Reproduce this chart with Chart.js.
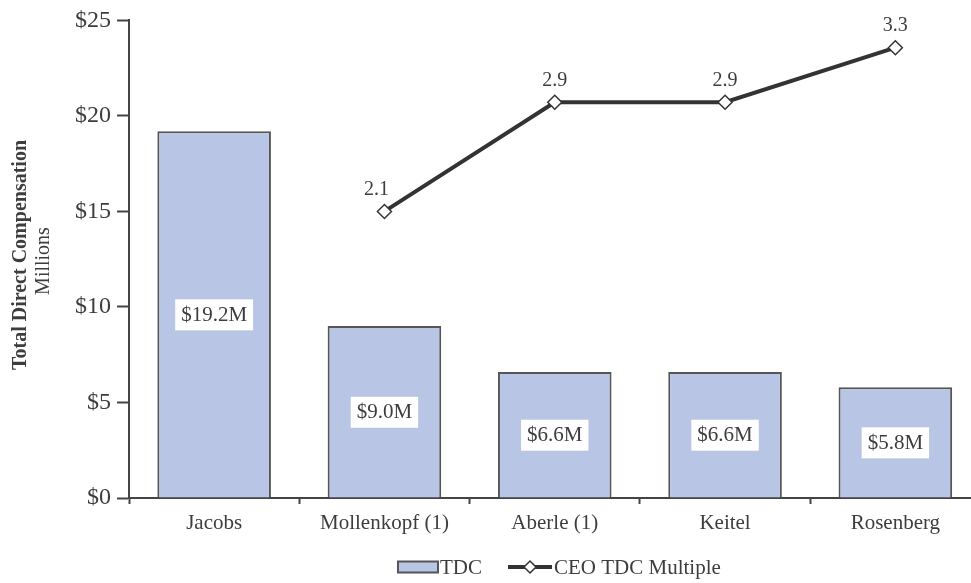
<!DOCTYPE html>
<html>
<script src="https://cdn.jsdelivr.net/npm/chart.js@4.4.1/dist/chart.umd.min.js"></script>
<body style="margin:0;overflow:hidden;background:#fff">
<canvas id="myChart" width="989" height="583"></canvas>

<script>
    const names = ["Jacobs", "Mollenkopf (1)", "Aberle (1)", "Keitel", "Rosenberg"];
    const tdc = [19.2, 9.0, 6.6, 6.6, 5.8];
    const multiple = [null, 2.1, 2.9, 2.9, 3.3];
    const yTicks = [0, 5, 10, 15, 20, 25];

    const serif = "'Liberation Serif', 'Times New Roman', serif";
    const textColor = "#3d3d3d";
    const barFill = "#b9c5e5";
    const barEdge = "#555";
    const lineColor = "#333";

    // labels on the bars and above the points, plus the left title and the legend
    const extras = {
        id: "extras",
        afterDatasetsDraw(chart) {
            const ctx = chart.ctx;
            ctx.save();
            ctx.font = "21px " + serif;
            ctx.textAlign = "center";
            ctx.textBaseline = "middle";

            chart.getDatasetMeta(0).data.forEach((bar, i) => {
                const txt = "$" + tdc[i].toFixed(1) + "M";
                const cy = (bar.y + bar.base) / 2;
                const w = ctx.measureText(txt).width + 12;
                ctx.fillStyle = "#fff";
                ctx.fillRect(bar.x - w / 2, cy - 15, w, 31);
                ctx.fillStyle = textColor;
                ctx.fillText(txt, bar.x, cy + 1);
            });

            ctx.font = "20px " + serif;
            const first = multiple.findIndex(v => v != null);
            chart.getDatasetMeta(1).data.forEach((pt, i) => {
                if (multiple[i] == null) return;
                // first label sits a little left so the rising line stays clear
                const dx = i === first ? -8 : 0;
                ctx.fillStyle = textColor;
                ctx.fillText(multiple[i].toFixed(1), pt.x + dx, pt.y - 22);
            });

            // y title, two lines
            ctx.translate(21, 255);
            ctx.rotate(-Math.PI / 2);
            ctx.font = "bold 20px " + serif;
            ctx.fillText("Total Direct Compensation", 0, 0);
            ctx.font = "20px " + serif;
            ctx.fillText("Millions", -6, 23);
            ctx.setTransform(1, 0, 0, 1, 0, 0);

            // legend
            ctx.font = "21px " + serif;
            ctx.textAlign = "left";
            const l1 = chart.data.datasets[0].label;
            const l2 = chart.data.datasets[1].label;
            let x = 398;
            const y = 567;
            ctx.fillStyle = barFill;
            ctx.fillRect(x, y - 5.5, 40, 11);
            ctx.strokeStyle = barEdge;
            ctx.lineWidth = 2;
            ctx.strokeRect(x, y - 5.5, 40, 11);
            x += 42;
            ctx.fillStyle = textColor;
            ctx.fillText(l1, x, y + 1);
            x += ctx.measureText(l1).width + 26;
            ctx.strokeStyle = lineColor;
            ctx.lineWidth = 4;
            ctx.beginPath();
            ctx.moveTo(x, y);
            ctx.lineTo(x + 44, y);
            ctx.stroke();
            ctx.beginPath();
            ctx.moveTo(x + 22, y - 6);
            ctx.lineTo(x + 28, y);
            ctx.lineTo(x + 22, y + 6);
            ctx.lineTo(x + 16, y);
            ctx.closePath();
            ctx.fillStyle = "#fff";
            ctx.fill();
            ctx.lineWidth = 1.5;
            ctx.stroke();
            x += 46;
            ctx.fillStyle = textColor;
            ctx.fillText(l2, x, y + 1);
            ctx.restore();
        }
    };

    const myChart = new Chart("myChart", {
        data: {
            labels: names,
            datasets: [{
                type: "bar",
                label: "TDC",
                data: tdc,
                backgroundColor: barFill,
                borderColor: barEdge,
                borderWidth: 2,
                categoryPercentage: 1,
                barPercentage: 0.667,
                yAxisID: "y",
                order: 2
            }, {
                type: "line",
                label: "CEO TDC Multiple",
                data: multiple,
                borderColor: lineColor,
                borderWidth: 4,
                pointStyle: "rectRot",
                pointRadius: 7,
                pointBackgroundColor: "#fff",
                pointBorderColor: lineColor,
                pointBorderWidth: 1.5,
                yAxisID: "y1",
                order: 1
            }]
        },
        options: {
            responsive: false,
            animation: false,
            layout: {padding: {top: 19, right: 0, left: 0, bottom: 0}},
            plugins: {
                legend: {display: false},
                tooltip: {enabled: false}
            },
            scales: {
                x: {
                    offset: true,
                    border: {color: "#444", width: 2},
                    grid: {drawOnChartArea: false, offset: true, tickLength: 6, tickColor: "#444", tickWidth: 2},
                    ticks: {color: textColor, font: {family: serif, size: 21}, padding: 7},
                    afterFit: s => { s.height = 85; }
                },
                y: {
                    position: "left",
                    min: 0,
                    max: 25,
                    afterBuildTicks: s => { s.ticks = yTicks.map(v => ({value: v})); },
                    border: {color: "#444", width: 2},
                    grid: {drawOnChartArea: false, tickLength: 12, tickColor: "#444", tickWidth: 2},
                    ticks: {
                        color: textColor,
                        font: {family: serif, size: 24},
                        padding: 6,
                        callback: v => "$" + v
                    },
                    afterFit: s => { s.width = 129; }
                },
                y1: {
                    display: false,
                    min: 0,
                    max: 3.5
                }
            }
        },
        plugins: [extras]
    });
</script>
</body>
</html>
